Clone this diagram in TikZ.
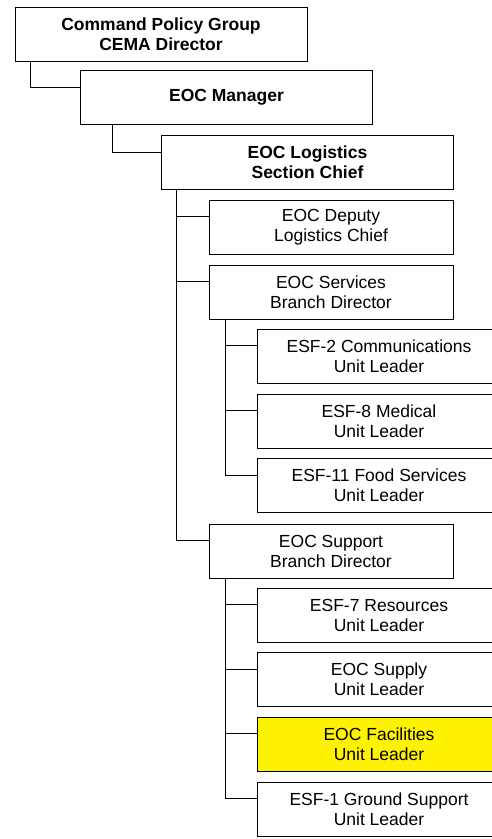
\documentclass[tikz,border=0pt]{standalone}
\usepackage{fontspec}
\setmainfont{Liberation Sans}
\begin{document}
\begin{tikzpicture}[x=1pt,y=-1pt,
  orgbox/.style={draw=black,line width=1pt,fill=white,align=center,inner sep=0pt,
    minimum width=244pt,minimum height=54pt,font=\fontsize{17.5}{20}\selectfont},
  topbox/.style={orgbox,minimum width=292pt,font=\fontsize{17.5}{20}\selectfont\bfseries},
  hilite/.style={fill=yellow},
  conn/.style={draw=black,line width=1pt}]
\useasboundingbox (0,0) rectangle (492,839);
\clip (0,0) rectangle (492,839);
\node[topbox] (b1) at (161,34) {Command Policy Group\\CEMA Director};
\node[topbox] (b2) at (226.5,97.5) {EOC Manager};
\node[topbox] (b3) at (307.5,162) {EOC Logistics\\Section Chief};
\node[orgbox] (dep) at (331,227.5) {EOC Deputy\\Logistics Chief};
\node[orgbox] (srv) at (331,292.5) {EOC Services\\Branch Director};
\node[orgbox] (e2) at (379,356) {ESF-2 Communications\\Unit Leader};
\node[orgbox] (e8) at (379,421) {ESF-8 Medical\\Unit Leader};
\node[orgbox] (e11) at (379,485.5) {ESF-11 Food Services\\Unit Leader};
\node[orgbox] (sup) at (331,551) {EOC Support\\Branch Director};
\node[orgbox] (e7) at (379,615) {ESF-7 Resources\\Unit Leader};
\node[orgbox] (spl) at (379,679.5) {EOC Supply\\Unit Leader};
\node[orgbox,hilite] (fac) at (379,744) {EOC Facilities\\Unit Leader};
\node[orgbox] (e1) at (379,809) {ESF-1 Ground Support\\Unit Leader};
\draw[conn] ([xshift=16pt]b1.south west) |- ([yshift=10.5pt]b2.west);
\draw[conn] ([xshift=32pt]b2.south west) |- ([yshift=10pt]b3.west);
\foreach \t in {dep,srv,sup}
  \draw[conn] ([xshift=15pt]b3.south west) |- ([yshift=11pt]\t.west);
\foreach \t in {e2,e8,e11}
  \draw[conn] ([xshift=17pt]srv.south west) |- ([yshift=10.5pt]\t.west);
\foreach \t in {e7,spl,fac,e1}
  \draw[conn] ([xshift=17pt]sup.south west) |- ([yshift=10.5pt]\t.west);
\end{tikzpicture}
\end{document}
